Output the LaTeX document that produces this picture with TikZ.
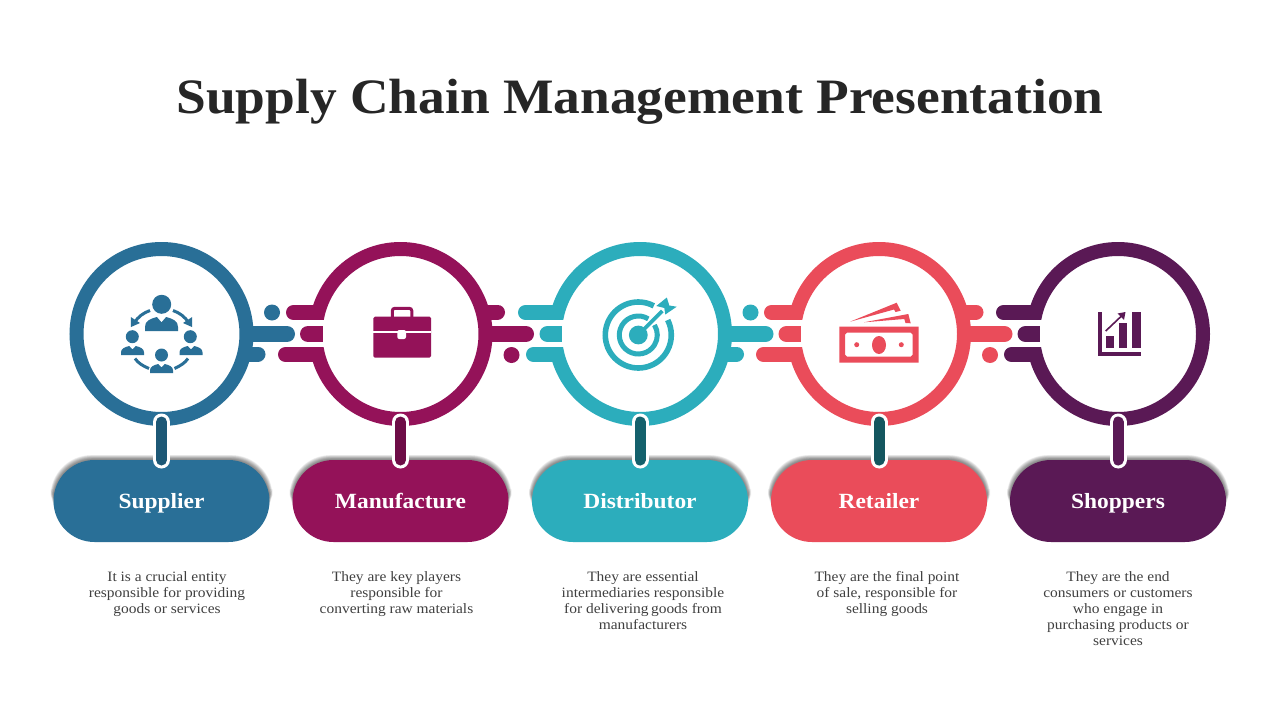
\documentclass[tikz,border=0pt]{standalone}
\usepackage{fontspec}
\setmainfont[FakeStretch=1.08]{Liberation Serif}
\usetikzlibrary{calc}
\definecolor{cA}{HTML}{296F97}\definecolor{dA}{HTML}{1D5876}
\definecolor{cB}{HTML}{941259}\definecolor{dB}{HTML}{6E0D47}
\definecolor{cC}{HTML}{2CADBC}\definecolor{dC}{HTML}{14616C}
\definecolor{cD}{HTML}{EA4C5A}\definecolor{dD}{HTML}{14565F}
\definecolor{cE}{HTML}{5A1955}\definecolor{dE}{HTML}{5A1955}
\definecolor{ink}{HTML}{262626}\definecolor{bodyink}{HTML}{404040}
\tikzset{
  ringnode/.style={circle,draw=#1,fill=white,line width=14pt,minimum size=170pt,inner sep=0pt,outer sep=0pt},
  pillnode/.style={rectangle,fill=#1,rounded corners=41pt,minimum width=216pt,minimum height=82pt,inner sep=0pt,outer sep=0pt,text=white,text height=17pt,text depth=3pt,font=\fontsize{21.7}{26}\selectfont\bfseries},
  bodytext/.style={align=center,text=bodyink,anchor=north,inner sep=0pt,font=\fontsize{14.3}{16}\selectfont},
  barline/.style={line width=#1,line cap=round},
}
\newcommand\leftbars[4]{%
  \draw[barline=15pt,#2] ($(#1.center)+(-#3+7.5,312.5-334)$) -- ($(#1.center)+(-84,312.5-334)$);
  \draw[barline=15pt,#2] ($(#1.center)+(-#4+7.5,354.5-334)$) -- ($(#1.center)+(-84,354.5-334)$);
  \fill[white] ($(#1.center)+(-104,320-334)$) rectangle ($(#1.center)+(-76,326-334)$);
  \fill[white] ($(#1.center)+(-104,342-334)$) rectangle ($(#1.center)+(-76,347-334)$);
  \fill[white] ($(#1.center)+(-95,326-334)$) rectangle ($(#1.center)+(-77,342-334)$);
  \draw[barline=16pt,#2] ($(#1.center)+(-92.5,0)$) -- ($(#1.center)+(-88,0)$);
  \fill[#2] ($(#1.center)+(-90,-8)$) rectangle ($(#1.center)+(-78,8)$);
}
\newcommand\rightA[2]{%
  \fill[#2] ($(#1.center)+(110.5,-21.5)$) circle[radius=8pt];
  \draw[barline=15pt,#2] ($(#1.center)+(86,20)$) -- ($(#1.center)+(96.5,20)$);
  \draw[barline=16pt,#2] ($(#1.center)+(88,0)$) -- ($(#1.center)+(125.5,0)$);
}
\newcommand\rightB[2]{%
  \fill[#2] ($(#1.center)+(111,21)$) circle[radius=8pt];
  \draw[barline=15pt,#2] ($(#1.center)+(86,-22)$) -- ($(#1.center)+(97,-22)$);
  \draw[barline=16pt,#2] ($(#1.center)+(88,0)$) -- ($(#1.center)+(125.5,0)$);
}
\newcommand\softshadow[1]{%
  \foreach \d in {5,4.5,...,0.5}{
    \fill[black,opacity=.055,rounded corners=41pt]
      (#1-108-\d*.6,460-\d*.9-.5) rectangle (#1+108+\d*.6,530);
  }
}
\newcommand\linkbar[3]{%
  \draw[line width=17pt,line cap=round,white] ([yshift=-3pt]#1.south) -- (#2.north);
  \draw[line width=11pt,line cap=round,#3] ([yshift=-3pt]#1.south) -- (#2.north);
}
\newcommand\personicon[4]{%
  \fill[cA,shift={(#1,#2)},xscale=#3,yscale=#4]
    (-1,1) -- (-1,.7) .. controls (-1,.3) and (-.7,.12) .. (-.28,0) -- (0,.38) -- (.28,0)
    .. controls (.7,.12) and (1,.3) .. (1,.7) -- (1,1) -- cycle;
}
\begin{document}
\begin{tikzpicture}[x=1pt,y=-1pt]
\useasboundingbox (0,0) rectangle (1280,720);
\fill[white] (0,0) rectangle (1280,720);
\node[inner sep=0pt,text=ink,font=\fontsize{49.5}{56}\selectfont\bfseries] (title) at (640,102) {Supply Chain Management Presentation};

\node[ringnode=cA] (r1) at (161.5,334) {};
\rightA{r1}{cA}
\node[ringnode=cB] (r2) at (400.5,334) {};
\leftbars{r2}{cB}{114.5}{122.5}
\rightB{r2}{cB}
\node[ringnode=cC] (r3) at (640,334) {};
\leftbars{r3}{cC}{122}{114}
\rightA{r3}{cC}
\node[ringnode=cD] (r4) at (879,334) {};
\leftbars{r4}{cD}{115}{123}
\rightB{r4}{cD}
\node[ringnode=cE] (r5) at (1118,334) {};
\leftbars{r5}{cE}{122}{114}

\softshadow{161.5}\softshadow{400.5}\softshadow{640}\softshadow{879}\softshadow{1118}
\node[pillnode=cA] (p1) at (161.5,501) {Supplier};
\node[pillnode=cB] (p2) at (400.5,501) {Manufacture};
\node[pillnode=cC] (p3) at (640,501) {Distributor};
\node[pillnode=cD] (p4) at (879,501) {Retailer};
\node[pillnode=cE] (p5) at (1118,501) {Shoppers};

\linkbar{r1}{p1}{dA}
\linkbar{r2}{p2}{dB}
\linkbar{r3}{p3}{dC}
\linkbar{r4}{p4}{dD}
\linkbar{r5}{p5}{dE}

\node[bodytext] (t1) at (167,571.5) {It is a crucial entity\\responsible for providing\\goods or services};
\node[bodytext] (t2) at (396.5,571.5) {They are key players\\responsible for\\converting raw materials};
\node[bodytext] (t3) at (643,571.5) {They are essential\\intermediaries responsible\\for delivering\,goods from\\manufacturers};
\node[bodytext] (t4) at (887,571.5) {They are the final point\\of sale, responsible for\\selling goods};
\node[bodytext] (t5) at (1118,571.5) {They are the end\\consumers or customers\\who engage in\\purchasing products or\\services};

% people icon
\fill[cA] (161.7,304.3) circle[radius=9.5pt];
\fill[cA] (132.3,336.7) circle[radius=6.5pt];
\fill[cA] (190.3,336.7) circle[radius=6.5pt];
\fill[cA] (161.5,355) circle[radius=6.5pt];
\personicon{161.5}{317}{16.5}{14}
\personicon{132.5}{346}{11.5}{9}
\personicon{191}{346}{11.5}{9}
\personicon{161.5}{364}{11.5}{9}
\draw[cA,line width=3pt] (150,310.5) .. controls (143,313) and (138,317) .. (134.5,322.5);
\fill[cA] (131,327) -- (130.8,317) -- (140,323) -- cycle;
\draw[cA,line width=3pt] (173,310.5) .. controls (180,313) and (185,317) .. (188.5,322.5);
\fill[cA] (192,327) -- (192.2,317) -- (183,323) -- cycle;
\draw[cA,line width=3pt] (135,358.5) .. controls (138,363) and (143,366) .. (149,368.5);
\draw[cA,line width=3pt] (188,358.5) .. controls (185,363) and (180,366) .. (174.5,368.5);

% briefcase
\draw[cB,line width=3pt,rounded corners=2.5pt] (392.3,317) -- (392.3,308.3) -- (411.8,308.3) -- (411.8,317);
\fill[cB,rounded corners=1.5pt] (373.3,316.7) rectangle (431,357.7);
\fill[white] (373.3,331.4) rectangle (431,333.2);
\fill[white,rounded corners=2pt] (397.3,330) rectangle (406,339);

% target
\begin{scope}[shift={(638.3,335)},x=1pt,y=1pt]
  \draw[cC,line width=5.6pt] (62:33) arc[start angle=62,end angle=387,radius=33pt];
  \draw[cC,line width=5pt] (58:19) arc[start angle=58,end angle=392,radius=19pt];
  \draw[white,line width=7pt] (0,0) -- (28,28);
  \fill[cC] (0,0) circle[radius=9.4pt];
  \draw[cC,line width=3.8pt] (0,0) -- (24,24);
  \fill[cC] (18,29) -- (28.5,37.5) -- (31,29.5) -- (38.4,28.3) -- (27,20.5) -- (26,27) -- cycle;
\end{scope}

% money
\fill[cD,even odd rule] (839.3,326.7) rectangle (918.7,362.7)
  (847,332.7) -- (910.7,332.7) -- (912.7,334.7) -- (912.7,354.7) -- (910.7,356.7) -- (847,356.7) -- (845,354.7) -- (845,334.7) -- cycle;
\fill[cD] (879,345) ellipse[x radius=7pt,y radius=9pt];
\fill[cD] (856.7,344.7) circle[radius=2.5pt];
\fill[cD] (901.3,344.7) circle[radius=2.5pt];
\fill[cD] (850,321.7) -- (896.7,302.7) -- (900.7,310.7) -- (895.5,312) -- (894,309.5) -- cycle;
\fill[cD] (864,322.3) -- (908.3,314) -- (910.7,323.3) -- (905.5,323) -- (904.3,319) -- cycle;

% chart
\fill[cE] (1097.7,311.7) rectangle (1101.7,355.7);
\fill[cE] (1097.7,352.3) rectangle (1141,355.7);
\fill[cE] (1105.7,335.7) rectangle (1114.3,348.3);
\fill[cE] (1118.7,323.3) rectangle (1127.3,348.3);
\fill[cE] (1131.7,311.7) rectangle (1141,348.3);
\draw[cE,line width=1.6pt] (1105.7,331) -- (1122,315.5);
\fill[cE] (1125.5,312) -- (1117.5,313.5) -- (1124,320) -- cycle;
\end{tikzpicture}
\end{document}
